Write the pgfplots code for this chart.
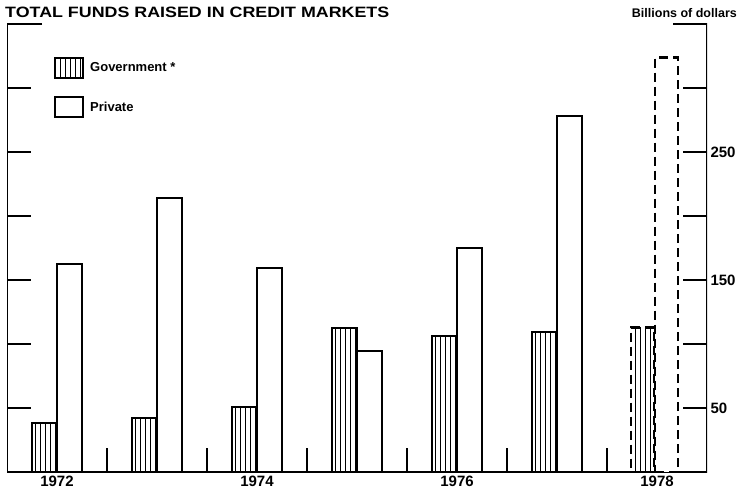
\documentclass[border=0pt]{standalone}
\usepackage{pgfplots}
\pgfplotsset{compat=1.18}
\usetikzlibrary{patterns.meta}
\usepackage{fontspec}
\setmainfont{Liberation Sans}
\pgfplotsset{boxlegend/.style={legend image code/.code={\draw[##1] (0pt,-10pt) rectangle (28pt,10pt);}}}
\begin{document}
\begin{tikzpicture}
\begin{axis}[name=ax,
  width=700pt, height=448pt, scale only axis,
  xmin=-0.5, xmax=6.5, ymin=0, ymax=350,
  axis line style={draw=none},
  ybar, bar width=25pt,
  tick align=inside,
  xtick={0.5,1.5,2.5,3.5,4.5,5.5}, xticklabels={},
  xtick pos=bottom,
  extra x ticks={0,2,4,6},
  extra x tick labels={1972,1974,1976,1978},
  extra x tick style={major tick length=0pt},
  ytick={50,100,150,200,250,300},
  yticklabels={50,,150,,250,},
  yticklabel pos=right,
  ytick pos=both,
  major tick length=24pt,
  xtick align=inside, ytick align=inside,
  tick style={line width=2pt, black},
  ticklabel style={font=\bfseries\fontsize{15}{15}\selectfont},
  legend style={draw=none, fill=none, at={(rel axis cs:0,1)}, anchor=north west,
    xshift=44pt, yshift=-31pt, font=\bfseries\fontsize{13}{13}\selectfont,
    row sep=17pt, legend cell align=left,
    nodes={inner xsep=6pt}},
]
\draw[line width=2.5pt] ([xshift=35pt]rel axis cs:0,1) -- (rel axis cs:0,1) -- (rel axis cs:0,0) -- (rel axis cs:1,0) -- (rel axis cs:1,1) -- ([xshift=-34pt]rel axis cs:1,1);
\addplot[ybar, bar shift=-12.5pt, draw=black, line width=2pt,
  pattern={Lines[angle=90,distance=5pt,line width=1pt]}, boxlegend]
  coordinates {(0,38) (1,42) (2,51) (3,112.5) (4,106) (5,109)};
\addlegendentry{Government *}
\addplot[ybar, bar shift=12.5pt, draw=black, line width=2pt, fill=white, boxlegend]
  coordinates {(0,162.5) (1,214) (2,159) (3,94.5) (4,175) (5,278)};
\addlegendentry{Private}
\addplot[forget plot, ybar, bar width=23pt, bar shift=-14.5pt, draw=black, line width=2.5pt,
  dash pattern=on 9pt off 5pt,
  pattern={Lines[angle=90,distance=5pt,line width=1pt]}]
  coordinates {(6,113)};
\addplot[forget plot, ybar, bar width=23pt, bar shift=9.5pt, draw=black, line width=2.5pt,
  dash pattern=on 9pt off 5pt, fill=white]
  coordinates {(6,324)};
\end{axis}
\node[anchor=base west, inner sep=0pt, font=\bfseries\fontsize{15}{15}\selectfont] at ([xshift=-2pt,yshift=6pt]ax.north west) {\scalebox{1.19}[1]{TOTAL FUNDS RAISED IN CREDIT MARKETS}};
\node[anchor=base east, inner sep=0pt, font=\bfseries\fontsize{12.5}{12.5}\selectfont] at ([xshift=30pt,yshift=6pt]ax.north east) {Billions of dollars};
\pgfresetboundingbox
\path ([xshift=-7pt,yshift=-24pt]ax.south west) rectangle ([xshift=34pt,yshift=24pt]ax.north east);
\end{tikzpicture}
\end{document}
